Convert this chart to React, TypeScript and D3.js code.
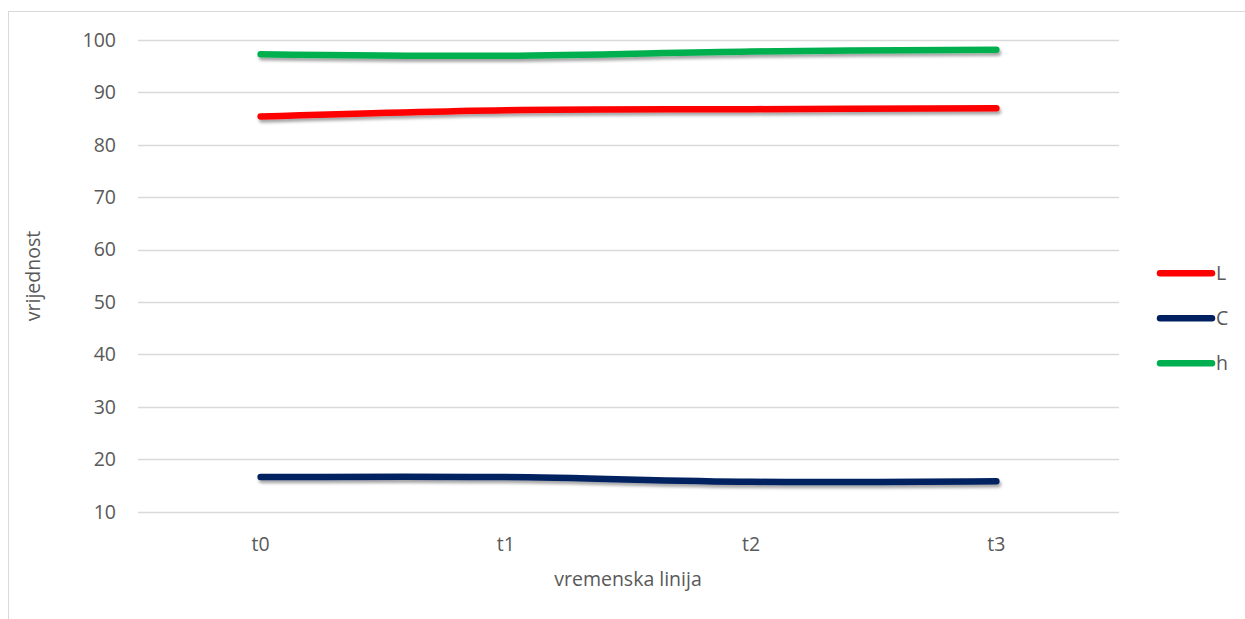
import { useRef, useEffect, RefObject } from 'react';
import * as d3 from 'd3';

const categories: string[] = ['t0', 't1', 't2', 't3'];
const seriesNames: string[] = ['L', 'C', 'h'];
const valuesL: number[] = [85.4, 86.6, 86.8, 87.0];
const valuesC: number[] = [16.6, 16.6, 15.7, 15.8];
const valuesH: number[] = [97.3, 97.0, 97.8, 98.15];
const seriesColors: string[] = ['#FF0000', '#002060', '#00B050'];
const yTicks: number[] = [10, 20, 30, 40, 50, 60, 70, 80, 90, 100];

const App = () => {
  const svgRef: RefObject<SVGSVGElement> = useRef(null);

  useEffect(() => {
    const width = 1245;
    const height = 619;
    const font = "'Open Sans', 'Noto Sans', sans-serif";
    const fontSize = 19.5;
    const textColor = '#595959';

    const svg = d3.select(svgRef.current);
    svg.selectAll('*').remove();
    svg.attr('width', width).attr('height', height);

    const defs = svg.append('defs');
    defs
      .append('filter')
      .attr('id', 'shadow')
      .attr('x', '-10%')
      .attr('y', '-200%')
      .attr('width', '120%')
      .attr('height', '500%')
      .append('feDropShadow')
      .attr('dx', 1.5)
      .attr('dy', 3)
      .attr('stdDeviation', 1.8)
      .attr('flood-color', '#000')
      .attr('flood-opacity', 0.35);

    // chart frame
    svg
      .append('rect')
      .attr('x', 8.5)
      .attr('y', 11.5)
      .attr('width', 1260)
      .attr('height', 640)
      .attr('fill', 'white')
      .attr('stroke', '#D9D9D9')
      .attr('stroke-width', 1);

    const plotLeft = 138;
    const plotRight = 1119;

    const x = d3.scaleBand<string>().domain(categories).range([plotLeft, plotRight]);
    const y = d3.scaleLinear().domain([10, 100]).range([511.7, 40]);

    // gridlines
    svg
      .append('g')
      .selectAll('line')
      .data(yTicks)
      .join('line')
      .attr('x1', plotLeft)
      .attr('x2', plotRight)
      .attr('y1', (d) => Math.round(y(d)) + 0.5)
      .attr('y2', (d) => Math.round(y(d)) + 0.5)
      .attr('stroke', '#D9D9D9')
      .attr('stroke-width', 1.3);

    // y tick labels
    svg
      .append('g')
      .selectAll('text')
      .data(yTicks)
      .join('text')
      .attr('x', 116)
      .attr('y', (d) => y(d))
      .attr('dy', '0.35em')
      .attr('text-anchor', 'end')
      .attr('font-family', font)
      .attr('font-size', fontSize)
      .attr('fill', textColor)
      .text((d) => d);

    // x tick labels
    svg
      .append('g')
      .selectAll('text')
      .data(categories)
      .join('text')
      .attr('x', (d) => (x(d) as number) + x.bandwidth() / 2)
      .attr('y', 544)
      .attr('dy', '0.35em')
      .attr('text-anchor', 'middle')
      .attr('font-family', font)
      .attr('font-size', fontSize)
      .attr('fill', textColor)
      .text((d) => d);

    // axis titles
    svg
      .append('text')
      .attr('x', 628)
      .attr('y', 579)
      .attr('dy', '0.35em')
      .attr('text-anchor', 'middle')
      .attr('font-family', font)
      .attr('font-size', fontSize)
      .attr('fill', textColor)
      .text('vremenska linija');

    svg
      .append('text')
      .attr('transform', 'translate(33,276) rotate(-90)')
      .attr('dy', '0.35em')
      .attr('text-anchor', 'middle')
      .attr('font-family', font)
      .attr('font-size', fontSize)
      .attr('fill', textColor)
      .text('vrijednost');

    // series lines
    const allSeries = [valuesL, valuesC, valuesH];
    const line = d3
      .line<number>()
      .x((_, i) => (x(categories[i]) as number) + x.bandwidth() / 2)
      .y((d) => y(d))
      .curve(d3.curveCatmullRom.alpha(0.5));

    svg
      .append('g')
      .selectAll('path')
      .data(allSeries)
      .join('path')
      .attr('d', (d) => line(d))
      .attr('fill', 'none')
      .attr('stroke', (_, i) => seriesColors[i])
      .attr('stroke-width', 6.5)
      .attr('stroke-linecap', 'round')
      .attr('stroke-linejoin', 'round')
      .attr('filter', 'url(#shadow)');

    // legend
    const legendY = d3.scalePoint<string>().domain(seriesNames).range([273.3, 363.3]);
    const legend = svg
      .append('g')
      .selectAll('g')
      .data(seriesNames)
      .join('g')
      .attr('transform', (d) => `translate(0,${legendY(d)})`);

    legend
      .append('line')
      .attr('x1', 1160)
      .attr('x2', 1212)
      .attr('stroke', (_, i) => seriesColors[i])
      .attr('stroke-width', 6.5)
      .attr('stroke-linecap', 'round');

    legend
      .append('text')
      .attr('x', 1216)
      .attr('dy', '0.35em')
      .attr('font-family', font)
      .attr('font-size', fontSize)
      .attr('fill', textColor)
      .text((d) => d);
  }, []);

  return (
    <svg
      ref={svgRef}
      style={{ position: 'absolute', left: 0, top: 0, display: 'block' }}
    ></svg>
  );
};

export default App;
